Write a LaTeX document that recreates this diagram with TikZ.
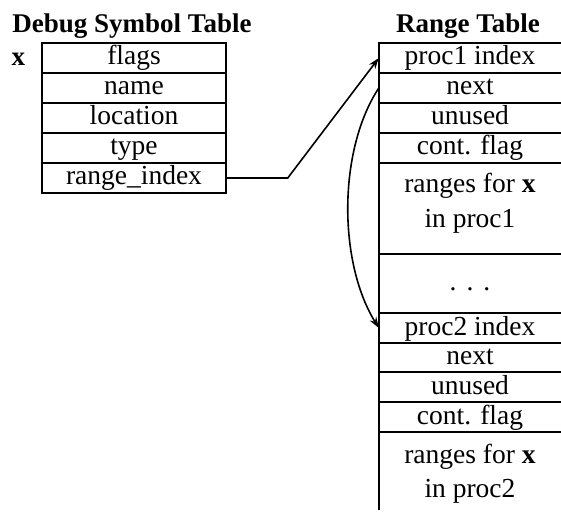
\documentclass[tikz,border=0pt]{standalone}
\usepackage{fontspec}
\setmainfont{Liberation Serif}
\usetikzlibrary{arrows.meta}
\begin{document}
\begin{tikzpicture}[x=1pt,y=-1pt,
  txt/.style={font=\fontsize{27.5}{32}\selectfont},
  cell/.style={txt, draw, line width=1.5pt, minimum width=184pt, minimum height=30pt,
    inner sep=0pt, text height=19pt, text depth=5pt},
  rcell/.style={txt, minimum width=182pt, inner sep=0pt, text height=19pt, text depth=5pt},
  rline/.style={line width=1.5pt},
  heading/.style={font=\fontsize{27}{30}\selectfont\bfseries, anchor=base, inner sep=0pt},
  ptr/.style={line width=1.6pt, -{Stealth[length=11pt,width=7.5pt]}}
]
\useasboundingbox (0,0) rectangle (561,521);

% debug symbol table
\node[heading] (dstitle) at (132,33) {Debug Symbol Table};
\node[heading] (xsym) at (18.5,66) {x};
\node[cell] (flags) at (134,58)  {flags};
\node[cell] (name)  at (134,88)  {name};
\node[cell] (loc)   at (134,118) {location};
\node[cell] (type)  at (134,148) {type};
\node[cell] (ri)    at (134,178) {range\_index};

% range table
\node[heading] (rttitle) at (468,33) {Range Table};
\node[rcell, minimum height=30pt] (p1) at (470,58)    {proc1 index};
\node[rcell, minimum height=30pt] (n1) at (470,88)    {next};
\node[rcell, minimum height=30pt] (u1) at (470,118)   {unused};
\node[rcell, minimum height=30pt] (c1) at (470,148)   {cont. flag};
\node[rcell, minimum height=91pt] (r1) at (470,208.5) {};
\node[rcell, minimum height=59pt] (dots) at (470,283.5) {.\hspace{10pt}.\hspace{10pt}.};
\node[rcell, minimum height=30pt] (p2) at (470,328)   {proc2 index};
\node[rcell, minimum height=29pt] (n2) at (470,357.5) {next};
\node[rcell, minimum height=30pt] (u2) at (470,387)   {unused};
\node[rcell, minimum height=30pt] (c2) at (470,417)   {cont. flag};
\node[rcell, minimum height=78pt] (r2) at (470,471)   {};

\node[txt, anchor=base, inner sep=0pt] (r1a) at (470,193) {ranges for \textbf{x}};
\node[txt, anchor=base, inner sep=0pt] (r1b) at (470,227) {in proc1};
\node[txt, anchor=base, inner sep=0pt] (r2a) at (470,463) {ranges for \textbf{x}};
\node[txt, anchor=base, inner sep=0pt] (r2b) at (470,497) {in proc2};

% open-sided cells: top edge and left edge of every row
\foreach \c in {p1,n1,u1,c1,r1,dots,p2,n2,u2,c2,r2}
  \draw[rline] (\c.north east) -- (\c.north west) -- (\c.south west);

% pointers
\draw[ptr] (ri.east) -- ++(61,0) -- (p1.west);
\draw[ptr] (n1.west) .. controls (338,150) and (338,262) .. (p2.west);
\end{tikzpicture}
\end{document}
